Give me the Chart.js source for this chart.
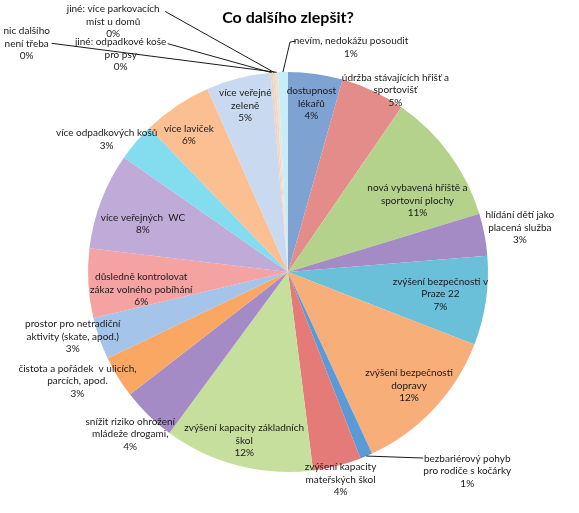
<!DOCTYPE html>
<html>
<head>
<meta charset="utf-8">
<title>Co dalšího zlepšit?</title>
<script src="https://cdn.jsdelivr.net/npm/chart.js@4.4.1/dist/chart.umd.min.js"></script>
<style>
  body { margin: 0; background: #fff; }
  #wrap { width: 579px; height: 513px; position: relative; }
</style>
</head>
<body>
<div id="wrap"><canvas id="pieChart"></canvas></div>
<script>
// answers, clockwise from 12 o'clock
const categories = [
  'dostupnost\nlékařů',
  'údržba stávajících hřišť a\nsportovišť',
  'nová vybavená hřiště a\nsportovní plochy',
  'hlídání dětí jako\nplacená služba',
  'zvýšení bezpečnosti v\nPraze 22',
  'zvýšení bezpečnosti\ndopravy',
  'bezbariérový pohyb\npro rodiče s kočárky',
  'zvýšení kapacity\nmateřských škol',
  'zvýšení kapacity základních\nškol',
  'snížit riziko ohrožení\nmládeže drogami,',
  'čistota a pořádek  v ulicích,\nparcích, apod.',
  'prostor pro netradiční\naktivity (skate, apod.)',
  'důsledně kontrolovat\nzákaz volného pobíhání',
  'více veřejných  WC',
  'více odpadkových košů',
  'více laviček',
  'více veřejné\nzeleně',
  'jiné: odpadkové koše\npro psy',
  'jiné: více parkovacích\nmíst u domů',
  'nic dalšího\nnení třeba',
  'nevím, nedokážu posoudit'
]

// share of answers in %
const shares = [4.4, 5.2, 10.7, 3.4, 7.2, 12.2, 1.0, 3.9, 12.1, 4.4, 3.4, 3.4, 5.6, 7.8, 3.1, 5.6, 5.2, 0.2, 0.2, 0.2, 0.8]

const sliceColors = [
  '#7ea2d2', '#e48c8a', '#b5d28c', '#a48bc6', '#69c0d8', '#f8ae78', '#5a9ad6',
  '#e57b79', '#c6df9c', '#a48bc6', '#f9a762', '#a4c4ea', '#f4a2a2', '#c0aad8',
  '#84dcef', '#fbbf92', '#c9daf0', '#f3d0c0', '#e8dcc8', '#f0e0d0', '#c8ecf8'
]

// where each label sits: r = fraction of radius along the slice middle, dx/dy nudge,
// line = leader points relative to the label centre (starts at the slice edge)
const placement = [
  {r: 0.85, dx: 0, dy: 0},
  {r: 1.05, dx: 18, dy: 8},
  {r: 0.74, dx: 10, dy: 16},
  {r: 1.18, dx: 0, dy: 0},
  {r: 0.77, dx: 0, dy: 0},
  {r: 0.83, dx: 0, dy: 0},
  {r: 1, dx: 101, dy: 15, line: [[-44, -13]]},
  {r: 1.07, dx: 0, dy: 0},
  {r: 0.87, dx: 0, dy: 0},
  {r: 1.13, dx: 0, dy: 0},
  {r: 1.19, dx: -8, dy: -16},
  {r: 1.12, dx: -4, dy: -10},
  {r: 0.735, dx: 0, dy: 9},
  {r: 0.76, dx: -3, dy: 6},
  {r: 1.12, dx: -11, dy: 13},
  {r: 0.845, dx: -5, dy: 3},
  {r: 0.86, dx: 0, dy: 0},
  {r: 1, dx: -151, dy: -18, line: [[47, -11]]},
  {r: 1, dx: -161, dy: -51, line: [[52, -10]]},
  {r: 1, dx: -250, dy: -29, line: [[25, 0]]},
  {r: 1, dx: 68, dy: -25, line: [[-61, -5], [-55, -6]]}
]

const sliceLabels = {
  id: 'sliceLabels',
  afterDatasetsDraw(chart) {
    const ctx = chart.ctx
    const arcs = chart.getDatasetMeta(0).data
    const total = shares.reduce((a, b) => a + b, 0)
    ctx.save()
    ctx.font = '10px Lato'
    ctx.fillStyle = '#1a1a1a'
    ctx.strokeStyle = '#1a1a1a'
    ctx.lineWidth = 1
    ctx.textAlign = 'center'
    ctx.textBaseline = 'middle'
    arcs.forEach((arc, i) => {
      const p = arc.getProps(['x', 'y', 'startAngle', 'endAngle', 'outerRadius'], true)
      const mid = (p.startAngle + p.endAngle) / 2
      const pl = placement[i]
      const ex = p.x + Math.cos(mid) * p.outerRadius
      const ey = p.y + Math.sin(mid) * p.outerRadius
      const lx = p.x + Math.cos(mid) * p.outerRadius * pl.r + pl.dx
      const ly = p.y + Math.sin(mid) * p.outerRadius * pl.r + pl.dy
      if (pl.line) {
        ctx.beginPath()
        ctx.moveTo(ex, ey)
        pl.line.forEach(pt => ctx.lineTo(lx + pt[0], ly + pt[1]))
        ctx.stroke()
      }
      const lines = categories[i].split('\n')
      lines.push(Math.round(shares[i] / total * 100) + '%')
      const lh = 12.5
      lines.forEach((t, k) => {
        ctx.fillText(t, lx, ly + (k - (lines.length - 1) / 2) * lh)
      })
    })
    ctx.restore()
  }
}

const ctx = document.getElementById('pieChart').getContext('2d')

const myChart = new Chart(ctx, {
  type: 'pie',
  data: {
    labels: categories,
    datasets: [{
      data: shares,
      backgroundColor: sliceColors,
      borderWidth: 0
    }]
  },
  options: {
    responsive: true,
    maintainAspectRatio: false,
    animation: false,
    events: [],
    layout: { padding: { left: 88, right: 91, top: 0, bottom: 41 } },
    plugins: {
      legend: { display: false },
      tooltip: { enabled: false },
      title: {
        display: true,
        text: 'Co dalšího zlepšit?',
        color: '#000',
        font: { family: 'Lato', size: 16, weight: 'bold', lineHeight: 1.2 },
        padding: { top: 8.4, bottom: 44.4 }
      }
    }
  },
  plugins: [sliceLabels]
})
</script>
</body>
</html>
